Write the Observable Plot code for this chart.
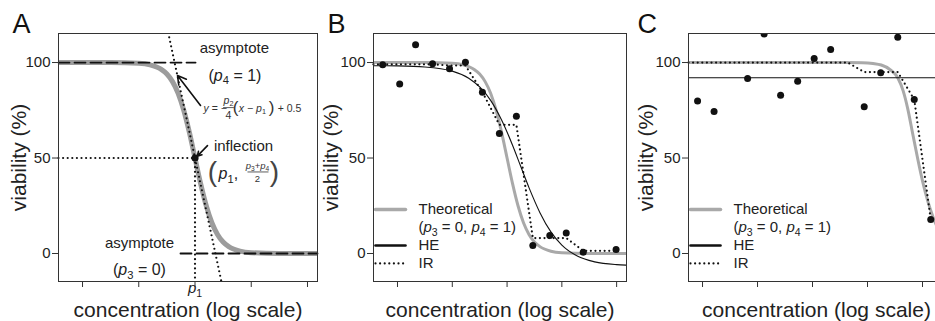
<!DOCTYPE html>
<html><head><meta charset="utf-8">
<script src="https://cdn.jsdelivr.net/npm/d3@7"></script>
<script src="https://cdn.jsdelivr.net/npm/@observablehq/plot@0.6"></script>
<style>
html,body{margin:0;padding:0;background:#fff;overflow:hidden;}
#wrap{position:relative;width:935px;height:321px;overflow:hidden;background:#fff;}
.panel{position:absolute;top:0;}
.panel svg{max-width:none !important;}
</style></head><body><div id="wrap"></div>
<script>
// ---------- data (x in decades of log concentration, y in viability %) ----------
const yTicks = [0, 50, 100];
const xTicks = [1, 2, 3, 4, 5];
const xTickLabelsA = ["", "", "{i:p}{s:1}", "", ""];

// theoretical curve (p3 = 0, p4 = 1), panels A and B
const theoX = [0.56, 1.5, 2.0, 2.2, 2.4, 2.5, 2.6, 2.7, 2.8, 2.9, 3.0, 3.1, 3.2, 3.3, 3.4, 3.5, 3.6, 3.8, 4.0, 4.5, 5.18];
const theoY = [100, 99.97, 99.6, 98.8, 96.4, 94.0, 90.0, 83.9, 75.0, 63.4, 50, 36.6, 25.0, 16.1, 10.0, 6.0, 3.6, 1.2, 0.4, 0.03, 0];

// panel A annotation values
const asymptotes = [100, 0];          // p4 = 1, p3 = 0
const inflection = [3, 50];           // (p1, (p3+p4)/2)
const tangentSlope = -137.8;          // -p2/4 in chart units

// panel B
const bX = [0.73, 1.04, 1.33, 1.64, 1.95, 2.24, 2.55, 2.86, 3.17, 3.47, 3.78, 4.08, 4.39, 4.99];
const bY = [98.8, 88.8, 109.3, 99.3, 96.7, 100.2, 84.5, 62.9, 71.9, 4.2, 9.4, 10.8, 0.7, 2.1];
const heBX = [0.56, 1.0, 1.5, 2.0, 2.3, 2.5, 2.7, 2.9, 3.1, 3.245, 3.4, 3.6, 3.8, 4.0, 4.3, 4.6, 5.0, 5.18];
const heBY = [98.35, 98.23, 97.69, 95.5, 91.8, 87.2, 80.2, 69.9, 56.7, 45.95, 34.5, 21.4, 11.3, 4.35, -1.6, -4.37, -5.81, -6.09];
const irBX = [0.56, 1.64, 1.95, 2.24, 2.55, 2.86, 3.17, 3.47, 4.08, 4.39, 4.99];
const irBY = [99.05, 99.05, 98.45, 98.45, 84.5, 67.4, 67.4, 8.1, 8.1, 1.4, 1.4];

// panel C
const cX = [0.91, 1.21, 1.82, 2.12, 2.42, 2.73, 3.03, 3.33, 3.94, 4.24, 4.55, 4.85, 5.15];
const cY = [79.9, 74.3, 91.6, 115, 82.9, 90.2, 102.1, 106.8, 76.8, 94.6, 113.3, 80.6, 17.8];
const theoCX = [0.745, 3.5, 3.9, 4.1, 4.25, 4.4, 4.55, 4.65, 4.73, 4.82, 4.91, 5.0, 5.1, 5.18, 5.3, 5.4];
const theoCY = [100, 100, 99.9, 99.5, 98.7, 96.5, 92, 85, 76, 63, 50, 38, 27, 20, 12, 8];
const heCX = [0.745, 5.4];
const heCY = [92, 92];
const irCX = [0.745, 3.64, 3.94, 4.55, 4.85, 5.15];
const irCY = [100, 100, 95, 95, 80.6, 17.8];

const legendLabels = ["Theoretical", "({i:p}{s:3} = 0, {i:p}{s:4} = 1)", "HE", "IR"];

// ---------- helpers ----------
const zip = (xs, ys) => xs.map((x, i) => ({x, y: ys[i]}));
const FONT = "'Liberation Sans', Arial, Helvetica, sans-serif";
const GRAY = "#a9a9a9";
const INK = "#111";
const yDomain = [-14.66, 115.2];
const DOTTED = {stroke: INK, strokeWidth: 2.2, strokeDasharray: "0,4.6", strokeLinecap: "round"};
const DASHED = {stroke: INK, strokeWidth: 1.8, strokeDasharray: "11,5"};
const svgNS = "http://www.w3.org/2000/svg";

function richText(root) {
  root.querySelectorAll("text").forEach(t => {
    const s = t.textContent;
    if (!/\{[is]:/.test(s)) return;
    const fs = parseFloat(getComputedStyle(t).fontSize) || 15;
    while (t.firstChild) t.removeChild(t.firstChild);
    let shift = 0;
    s.split(/(\{[is]:[^}]*\})/).forEach(tok => {
      if (!tok) return;
      const m = tok.match(/^\{([is]):([^}]*)\}$/);
      const ts = document.createElementNS(svgNS, "tspan");
      let target = 0, content = tok;
      if (m) {
        content = m[2];
        if (m[1] === "i") ts.setAttribute("font-style", "italic");
        if (m[1] === "s") { ts.setAttribute("font-size", (0.7 * fs).toFixed(1)); target = 0.24 * fs; }
      }
      const dy = target - shift;
      if (dy) ts.setAttribute("dy", dy.toFixed(2));
      shift = target;
      ts.textContent = content;
      t.appendChild(ts);
    });
  });
}

function commonMarks({letter, yTitleDx, letterDx}) {
  return [
    Plot.frame({stroke: "#333", strokeWidth: 1}),
    Plot.axisY({ticks: yTicks, tickSize: 6, tickPadding: 2, fontSize: 15, label: null, stroke: "#333"}),
    Plot.axisX({ticks: xTicks, tickSize: 6, label: null, stroke: "#333", tickFormat: () => ""}),
    Plot.text(["concentration (log scale)"], {frameAnchor: "bottom", lineAnchor: "middle", textAnchor: "middle", dy: 29, fontSize: 21, fill: "#222"}),
    Plot.text(["viability (%)"], {frameAnchor: "left", lineAnchor: "middle", textAnchor: "middle", dx: yTitleDx, rotate: -90, fontSize: 21, fill: "#222"}),
    Plot.text([letter], {frameAnchor: "top-left", lineAnchor: "middle", dx: letterDx, dy: -9, textAnchor: "start", fontSize: 27, fill: "#111"})
  ];
}

function legendMarks(xDomain, pxPerUnit) {
  const x1 = xDomain[0] + 2 / pxPerUnit, x2 = xDomain[0] + 32 / pxPerUnit;
  const rows = [23.0, 13.8, 4.2, -5.2];
  return [
    Plot.line([[x1, rows[0]], [x2, rows[0]]], {stroke: GRAY, strokeWidth: 3.5}),
    Plot.line([[x1, rows[2]], [x2, rows[2]]], {stroke: INK, strokeWidth: 2.6}),
    Plot.line([[x1, rows[3]], [x2, rows[3]]], DOTTED),
    Plot.text(legendLabels, {x: xDomain[0] + 45 / pxPerUnit, y: (d, i) => rows[i], textAnchor: "start", fontSize: 15, fill: "#222"})
  ];
}

function makePlot({left, width, marginLeft, marginRight, xDomain, marks}) {
  const svg = Plot.plot({
    width, height: 321, marginTop: 33, marginBottom: 40, marginLeft, marginRight,
    x: {domain: xDomain}, y: {domain: yDomain},
    style: {fontFamily: FONT, color: "#222", background: "transparent", overflow: "visible", maxWidth: "none"},
    marks
  });
  const div = document.createElement("div");
  div.className = "panel";
  div.style.left = left + "px";
  div.style.width = width + "px";
  div.appendChild(svg);
  svg.style.maxWidth = "none";
  svg.style.width = width + "px";
  svg.style.height = "321px";
  document.getElementById("wrap").appendChild(div);
  richText(svg);
}

// ---------- Panel A ----------
const xA = [0.573, 5.178];
const [p1, yInf] = inflection;
const tanTop = 113.2;
const tanX = v => p1 + (v - yInf) / tangentSlope;
makePlot({
  left: 0, width: 320, marginLeft: 58, marginRight: 3, xDomain: xA,
  marks: [
    Plot.line(zip(theoX, theoY), {x: "x", y: "y", stroke: "#9c9c9c", strokeWidth: 5, curve: "monotone-x", clip: true}),
    Plot.line([[xA[0], asymptotes[0]], [3.01, asymptotes[0]]], DASHED),
    Plot.line([[2.742, asymptotes[1]], [xA[1], asymptotes[1]]], DASHED),
    Plot.line([[xA[0], yInf], [p1, yInf]], DOTTED),
    Plot.line([[p1, yInf], [p1, yDomain[0]]], DOTTED),
    Plot.line([[tanX(tanTop), tanTop], [tanX(yDomain[0]), yDomain[0]]], {...DOTTED, clip: true}),
    Plot.dot([inflection], {r: 3.6, fill: INK}),
    Plot.arrow([{x1: 3.098, y1: 77.5, x2: 2.689, y2: 93.2}], {x1: "x1", y1: "y1", x2: "x2", y2: "y2", stroke: INK, strokeWidth: 1.6, headLength: 9}),
    Plot.arrow([{x1: 3.222, y1: 56.5, x2: 3.04, y2: 51}], {x1: "x1", y1: "y1", x2: "x2", y2: "y2", stroke: INK, strokeWidth: 1.6, headLength: 8}),
    // top asymptote label
    Plot.text(["asymptote"], {x: 3.70, y: 107.3, fontSize: 15, fill: "#222"}),
    Plot.text(["({i:p}{s:4} = 1)"], {x: 3.71, y: 93.2, fontSize: 16, fill: "#222"}),
    // tangent formula
    Plot.text(["{i:y} = −"], {x: 3.151, y: 76.0, textAnchor: "start", fontSize: 10.5, fill: "#333"}),
    Plot.text(["{i:p}{s:2}"], {x: 3.596, y: 80.3, fontSize: 10.5, fill: "#333"}),
    Plot.line([[3.507, 76.4], [3.684, 76.4]], {stroke: "#333", strokeWidth: 0.8}),
    Plot.text(["4"], {x: 3.596, y: 72.3, fontSize: 10.5, fill: "#333"}),
    Plot.text(["("], {x: 3.72, y: 76.6, fontSize: 17, fill: "#333"}),
    Plot.text(["{i:x} − {i:p}{s:1}"], {x: 3.78, y: 76.0, textAnchor: "start", fontSize: 10.5, fill: "#333"}),
    Plot.text([")"], {x: 4.36, y: 76.6, fontSize: 17, fill: "#333"}),
    Plot.text(["+ 0.5"], {x: 4.47, y: 76.0, textAnchor: "start", fontSize: 10.5, fill: "#333"}),
    // inflection label
    Plot.text(["inflection"], {x: 3.862, y: 56.0, fontSize: 15, fill: "#222"}),
    Plot.text(["("], {x: 3.31, y: 42.4, fontSize: 28, fill: "#444"}),
    Plot.text(["{i:p}{s:1},"], {x: 3.418, y: 41.6, textAnchor: "start", fontSize: 16, fill: "#222"}),
    Plot.text(["{i:p}{s:3}+{i:p}{s:4}"], {x: 4.111, y: 45.8, fontSize: 9.5, fill: "#333"}),
    Plot.line([[3.94, 42.7], [4.30, 42.7]], {stroke: "#333", strokeWidth: 0.8}),
    Plot.text(["2"], {x: 4.111, y: 38.9, fontSize: 9.5, fill: "#333"}),
    Plot.text([")"], {x: 4.413, y: 42.4, fontSize: 28, fill: "#444"}),
    // bottom asymptote label
    Plot.text(["asymptote"], {x: 2.013, y: 5.2, fontSize: 15, fill: "#222"}),
    Plot.text(["({i:p}{s:3} = 0)"], {x: 2.013, y: -8.4, fontSize: 16, fill: "#222"}),
    // x tick label p1
    Plot.text(xTickLabelsA, {x: xTicks, frameAnchor: "bottom", lineAnchor: "middle", textAnchor: "middle", dy: 7, fontSize: 15, fill: "#222"}),
    ...commonMarks({letter: "A", yTitleDx: -39, letterDx: -46})
  ]
});

// ---------- Panel B ----------
const xB = [0.562, 5.18];
makePlot({
  left: 320, width: 310, marginLeft: 53, marginRight: 4, xDomain: xB,
  marks: [
    Plot.line(zip(theoX, theoY), {x: "x", y: "y", stroke: GRAY, strokeWidth: 3, curve: "monotone-x", clip: true}),
    Plot.line(zip(heBX, heBY), {x: "x", y: "y", stroke: INK, strokeWidth: 1.1, curve: "monotone-x", clip: true}),
    Plot.line(zip(irBX, irBY), {x: "x", y: "y", ...DOTTED}),
    Plot.dot(zip(bX, bY), {x: "x", y: "y", r: 3.5, fill: INK}),
    ...legendMarks(xB, 253 / (xB[1] - xB[0])),
    ...commonMarks({letter: "B", yTitleDx: -42, letterDx: -46})
  ]
});

// ---------- Panel C ----------
const xC = [0.745, 5.4];
makePlot({
  left: 630, width: 315, marginLeft: 58, marginRight: 1, xDomain: xC,
  marks: [
    Plot.line(zip(theoCX, theoCY), {x: "x", y: "y", stroke: GRAY, strokeWidth: 3, curve: "monotone-x", clip: true}),
    Plot.line(zip(heCX, heCY), {x: "x", y: "y", stroke: INK, strokeWidth: 1.1}),
    Plot.line(zip(irCX, irCY), {x: "x", y: "y", ...DOTTED}),
    Plot.dot(zip(cX, cY), {x: "x", y: "y", r: 3.5, fill: INK, clip: true}),
    ...legendMarks(xC, 256 / (xC[1] - xC[0])),
    ...commonMarks({letter: "C", yTitleDx: -42, letterDx: -51})
  ]
});
</script></body></html>
